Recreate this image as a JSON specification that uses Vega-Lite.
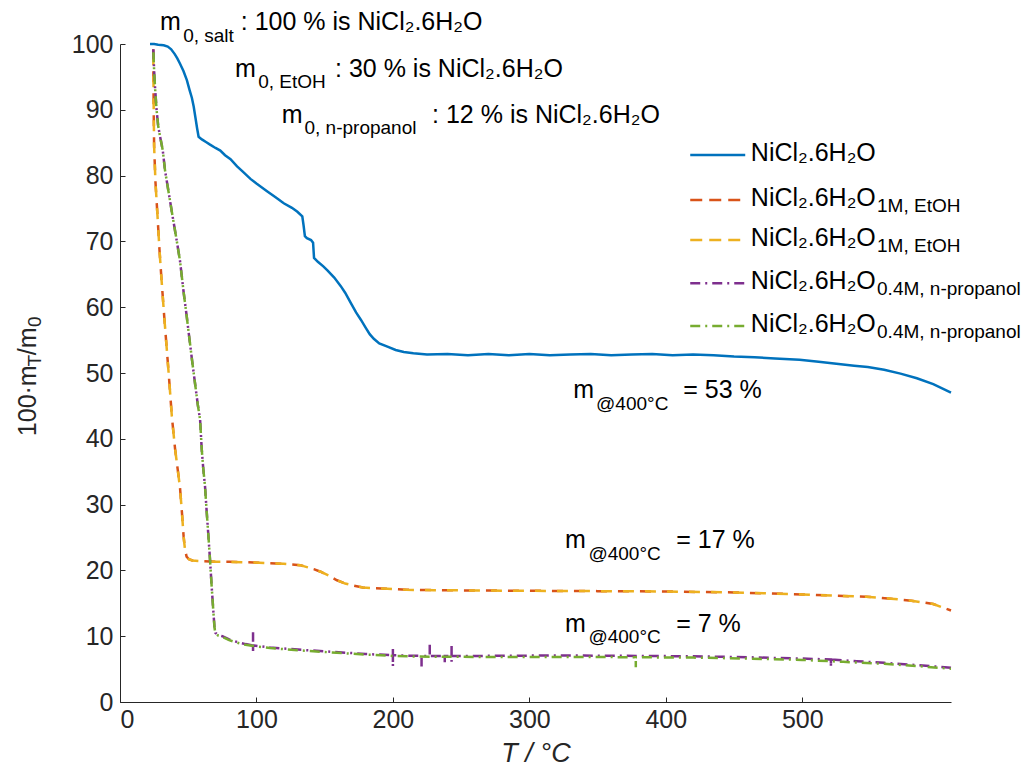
{
  "$schema": "https://vega.github.io/schema/vega-lite/v6.json",
  "width": 831,
  "height": 658,
  "autosize": "none",
  "padding": {"left": 120, "top": 44, "right": 75, "bottom": 74},
  "background": "white",
  "config": {"view": {"stroke": null}, "font": "Liberation Sans"},
  "datasets": {
    "curves": [
      {"s":"salt","T":22,"m":100},{"s":"salt","T":25,"m":100},{"s":"salt","T":28,"m":99.9},{"s":"salt","T":32,"m":99.8},{"s":"salt","T":35,"m":99.6},{"s":"salt","T":37.5,"m":99.2},{"s":"salt","T":40,"m":98.5},{"s":"salt","T":42,"m":97.8},{"s":"salt","T":44,"m":97.0},{"s":"salt","T":46.5,"m":95.9},{"s":"salt","T":49,"m":94.5},{"s":"salt","T":51,"m":93.0},{"s":"salt","T":52.7,"m":91.8},{"s":"salt","T":54,"m":90.5},{"s":"salt","T":55.3,"m":88.8},{"s":"salt","T":56.5,"m":87.2},{"s":"salt","T":57.6,"m":85.9},{"s":"salt","T":60,"m":85.5},{"s":"salt","T":63,"m":85.1},{"s":"salt","T":66,"m":84.7},{"s":"salt","T":70,"m":84.2},{"s":"salt","T":73.5,"m":83.8},{"s":"salt","T":77,"m":83.1},{"s":"salt","T":81,"m":82.5},{"s":"salt","T":85.8,"m":81.4},{"s":"salt","T":90,"m":80.6},{"s":"salt","T":95.6,"m":79.5},{"s":"salt","T":100,"m":78.8},{"s":"salt","T":108,"m":77.6},{"s":"salt","T":114,"m":76.7},{"s":"salt","T":120,"m":75.8},{"s":"salt","T":126,"m":75.1},{"s":"salt","T":130,"m":74.5},{"s":"salt","T":133.6,"m":73.8},{"s":"salt","T":134.5,"m":72.5},{"s":"salt","T":135.5,"m":70.8},{"s":"salt","T":137,"m":70.5},{"s":"salt","T":140,"m":70.2},{"s":"salt","T":141.5,"m":69.8},{"s":"salt","T":142.2,"m":67.5},{"s":"salt","T":145,"m":66.9},{"s":"salt","T":149,"m":66.2},{"s":"salt","T":152,"m":65.6},{"s":"salt","T":157,"m":64.5},{"s":"salt","T":161.8,"m":63.2},{"s":"salt","T":165,"m":62.2},{"s":"salt","T":169,"m":60.7},{"s":"salt","T":173,"m":59.2},{"s":"salt","T":176.5,"m":58.1},{"s":"salt","T":180,"m":56.9},{"s":"salt","T":183,"m":55.9},{"s":"salt","T":186,"m":55.2},{"s":"salt","T":190,"m":54.5},{"s":"salt","T":196,"m":54.0},{"s":"salt","T":202,"m":53.5},{"s":"salt","T":208,"m":53.2},{"s":"salt","T":215,"m":53.0},{"s":"salt","T":225,"m":52.8},{"s":"salt","T":240,"m":52.9},{"s":"salt","T":255,"m":52.7},{"s":"salt","T":270,"m":52.9},{"s":"salt","T":285,"m":52.7},{"s":"salt","T":300,"m":52.9},{"s":"salt","T":315,"m":52.7},{"s":"salt","T":330,"m":52.8},{"s":"salt","T":345,"m":52.9},{"s":"salt","T":360,"m":52.7},{"s":"salt","T":375,"m":52.8},{"s":"salt","T":390,"m":52.9},{"s":"salt","T":405,"m":52.7},{"s":"salt","T":420,"m":52.8},{"s":"salt","T":435,"m":52.7},{"s":"salt","T":450,"m":52.5},{"s":"salt","T":465,"m":52.4},{"s":"salt","T":480,"m":52.2},{"s":"salt","T":498,"m":52.0},{"s":"salt","T":512,"m":51.7},{"s":"salt","T":525,"m":51.4},{"s":"salt","T":538,"m":51.1},{"s":"salt","T":548,"m":50.9},{"s":"salt","T":560,"m":50.5},{"s":"salt","T":572,"m":49.9},{"s":"salt","T":584,"m":49.2},{"s":"salt","T":596,"m":48.3},{"s":"salt","T":609,"m":47.0},

      {"s":"e1","T":24.4,"m":99.2},{"s":"e1","T":24.5,"m":95},{"s":"e1","T":24.7,"m":90},{"s":"e1","T":25,"m":84.5},{"s":"e1","T":26,"m":79},{"s":"e1","T":27.5,"m":73.8},{"s":"e1","T":29,"m":68.5},{"s":"e1","T":30.6,"m":63.7},{"s":"e1","T":32.4,"m":58.6},{"s":"e1","T":34.3,"m":53.6},{"s":"e1","T":36.2,"m":48.5},{"s":"e1","T":38,"m":43.4},{"s":"e1","T":40.4,"m":38.4},{"s":"e1","T":42.5,"m":35},{"s":"e1","T":44,"m":32.5},{"s":"e1","T":45.5,"m":28.5},{"s":"e1","T":46.6,"m":25.2},{"s":"e1","T":47.6,"m":23.2},{"s":"e1","T":48.8,"m":22.1},{"s":"e1","T":50.5,"m":21.7},{"s":"e1","T":53,"m":21.5},{"s":"e1","T":60,"m":21.4},{"s":"e1","T":70,"m":21.3},{"s":"e1","T":80,"m":21.3},{"s":"e1","T":98,"m":21.2},{"s":"e1","T":110,"m":21.1},{"s":"e1","T":120,"m":21.0},{"s":"e1","T":132,"m":20.8},{"s":"e1","T":137,"m":20.5},{"s":"e1","T":142,"m":20.2},{"s":"e1","T":147,"m":19.8},{"s":"e1","T":153,"m":19.2},{"s":"e1","T":159,"m":18.5},{"s":"e1","T":165,"m":18.0},{"s":"e1","T":171,"m":17.7},{"s":"e1","T":178,"m":17.4},{"s":"e1","T":185,"m":17.3},{"s":"e1","T":196,"m":17.2},{"s":"e1","T":210,"m":17.05},{"s":"e1","T":230,"m":17.0},{"s":"e1","T":260,"m":16.95},{"s":"e1","T":300,"m":16.9},{"s":"e1","T":350,"m":16.85},{"s":"e1","T":400,"m":16.8},{"s":"e1","T":450,"m":16.65},{"s":"e1","T":475,"m":16.5},{"s":"e1","T":500,"m":16.35},{"s":"e1","T":525,"m":16.15},{"s":"e1","T":547,"m":16.0},{"s":"e1","T":565,"m":15.7},{"s":"e1","T":580,"m":15.4},{"s":"e1","T":596,"m":14.9},{"s":"e1","T":609,"m":13.9},

      {"s":"e2","T":24.4,"m":99.2},{"s":"e2","T":24.5,"m":95},{"s":"e2","T":24.7,"m":90},{"s":"e2","T":25,"m":84.5},{"s":"e2","T":26,"m":79},{"s":"e2","T":27.5,"m":73.8},{"s":"e2","T":29,"m":68.5},{"s":"e2","T":30.6,"m":63.7},{"s":"e2","T":32.4,"m":58.6},{"s":"e2","T":34.3,"m":53.6},{"s":"e2","T":36.2,"m":48.5},{"s":"e2","T":38,"m":43.4},{"s":"e2","T":40.4,"m":38.4},{"s":"e2","T":42.5,"m":35},{"s":"e2","T":44,"m":32.5},{"s":"e2","T":45.5,"m":28.5},{"s":"e2","T":46.6,"m":25.2},{"s":"e2","T":47.6,"m":23.2},{"s":"e2","T":48.8,"m":22.1},{"s":"e2","T":50.5,"m":21.7},{"s":"e2","T":53,"m":21.5},{"s":"e2","T":60,"m":21.4},{"s":"e2","T":70,"m":21.3},{"s":"e2","T":80,"m":21.3},{"s":"e2","T":98,"m":21.2},{"s":"e2","T":110,"m":21.1},{"s":"e2","T":120,"m":21.0},{"s":"e2","T":132,"m":20.8},{"s":"e2","T":137,"m":20.5},{"s":"e2","T":142,"m":20.2},{"s":"e2","T":147,"m":19.8},{"s":"e2","T":153,"m":19.2},{"s":"e2","T":159,"m":18.5},{"s":"e2","T":165,"m":18.0},{"s":"e2","T":171,"m":17.7},{"s":"e2","T":178,"m":17.4},{"s":"e2","T":185,"m":17.3},{"s":"e2","T":196,"m":17.2},{"s":"e2","T":210,"m":17.05},{"s":"e2","T":230,"m":17.0},{"s":"e2","T":260,"m":16.95},{"s":"e2","T":300,"m":16.9},{"s":"e2","T":350,"m":16.85},{"s":"e2","T":400,"m":16.8},{"s":"e2","T":450,"m":16.65},{"s":"e2","T":475,"m":16.5},{"s":"e2","T":500,"m":16.35},{"s":"e2","T":525,"m":16.15},{"s":"e2","T":547,"m":16.0},{"s":"e2","T":565,"m":15.7},{"s":"e2","T":580,"m":15.4},{"s":"e2","T":596,"m":14.9},{"s":"e2","T":609,"m":13.9},

      {"s":"p1","T":24.4,"m":99.2},{"s":"p1","T":25,"m":96},{"s":"p1","T":25.8,"m":93},{"s":"p1","T":26.8,"m":90},{"s":"p1","T":28,"m":87.5},{"s":"p1","T":29.5,"m":85.8},{"s":"p1","T":31.3,"m":83.9},{"s":"p1","T":33,"m":80.8},{"s":"p1","T":36,"m":77},{"s":"p1","T":38.8,"m":73.5},{"s":"p1","T":41.5,"m":70.2},{"s":"p1","T":44,"m":67},{"s":"p1","T":46.5,"m":62.5},{"s":"p1","T":48.9,"m":58.6},{"s":"p1","T":51,"m":55},{"s":"p1","T":53,"m":51.6},{"s":"p1","T":55,"m":48.4},{"s":"p1","T":57,"m":45.2},{"s":"p1","T":58.7,"m":42.9},{"s":"p1","T":59.9,"m":38.4},{"s":"p1","T":61,"m":35.5},{"s":"p1","T":62.3,"m":32.8},{"s":"p1","T":63.5,"m":29},{"s":"p1","T":64.8,"m":25.2},{"s":"p1","T":66,"m":21.5},{"s":"p1","T":67.2,"m":17.5},{"s":"p1","T":68.4,"m":13.8},{"s":"p1","T":69.3,"m":11.2},{"s":"p1","T":70,"m":10.5},{"s":"p1","T":72,"m":10.2},{"s":"p1","T":75,"m":10.0},{"s":"p1","T":80,"m":9.5},{"s":"p1","T":86,"m":9.1},{"s":"p1","T":92,"m":8.8},{"s":"p1","T":97.5,"m":8.6},{"s":"p1","T":97.5,"m":10.6},{"s":"p1","T":97.5,"m":7.7},{"s":"p1","T":97.5,"m":8.6},{"s":"p1","T":110,"m":8.3},{"s":"p1","T":122,"m":8.1},{"s":"p1","T":135,"m":7.9},{"s":"p1","T":150,"m":7.7},{"s":"p1","T":165,"m":7.5},{"s":"p1","T":180,"m":7.3},{"s":"p1","T":200,"m":7.1},{"s":"p1","T":200,"m":8.2},{"s":"p1","T":200,"m":5.4},{"s":"p1","T":200,"m":7.1},{"s":"p1","T":221,"m":7.0},{"s":"p1","T":221,"m":5.4},{"s":"p1","T":221,"m":7.0},{"s":"p1","T":227,"m":7.0},{"s":"p1","T":227,"m":8.7},{"s":"p1","T":227,"m":7.0},{"s":"p1","T":238,"m":7.0},{"s":"p1","T":238,"m":5.9},{"s":"p1","T":238,"m":7.0},{"s":"p1","T":243,"m":7.0},{"s":"p1","T":243,"m":8.5},{"s":"p1","T":243,"m":6.1},{"s":"p1","T":243,"m":7.0},{"s":"p1","T":260,"m":7.0},{"s":"p1","T":300,"m":7.05},{"s":"p1","T":340,"m":7.05},{"s":"p1","T":380,"m":7.0},{"s":"p1","T":420,"m":6.95},{"s":"p1","T":460,"m":6.8},{"s":"p1","T":500,"m":6.6},{"s":"p1","T":521,"m":6.45},{"s":"p1","T":521,"m":5.3},{"s":"p1","T":521,"m":6.45},{"s":"p1","T":540,"m":6.2},{"s":"p1","T":560,"m":5.95},{"s":"p1","T":585,"m":5.6},{"s":"p1","T":609,"m":5.2},

      {"s":"p2","T":24.4,"m":99.2},{"s":"p2","T":25,"m":96},{"s":"p2","T":25.8,"m":93},{"s":"p2","T":26.8,"m":90},{"s":"p2","T":28,"m":87.5},{"s":"p2","T":29.5,"m":85.8},{"s":"p2","T":31.3,"m":83.9},{"s":"p2","T":33,"m":80.8},{"s":"p2","T":36,"m":77},{"s":"p2","T":38.8,"m":73.5},{"s":"p2","T":41.5,"m":70.2},{"s":"p2","T":44,"m":67},{"s":"p2","T":46.5,"m":62.5},{"s":"p2","T":48.9,"m":58.6},{"s":"p2","T":51,"m":55},{"s":"p2","T":53,"m":51.6},{"s":"p2","T":55,"m":48.4},{"s":"p2","T":57,"m":45.2},{"s":"p2","T":58.7,"m":42.9},{"s":"p2","T":59.9,"m":38.4},{"s":"p2","T":61,"m":35.5},{"s":"p2","T":62.3,"m":32.8},{"s":"p2","T":63.5,"m":29},{"s":"p2","T":64.8,"m":25.2},{"s":"p2","T":66,"m":21.5},{"s":"p2","T":67.2,"m":17.5},{"s":"p2","T":68.4,"m":13.8},{"s":"p2","T":69.3,"m":11.2},{"s":"p2","T":70,"m":10.4},{"s":"p2","T":72,"m":10.1},{"s":"p2","T":75,"m":9.9},{"s":"p2","T":80,"m":9.4},{"s":"p2","T":86,"m":9.0},{"s":"p2","T":92,"m":8.7},{"s":"p2","T":98,"m":8.5},{"s":"p2","T":110,"m":8.2},{"s":"p2","T":122,"m":8.0},{"s":"p2","T":135,"m":7.8},{"s":"p2","T":150,"m":7.6},{"s":"p2","T":165,"m":7.4},{"s":"p2","T":180,"m":7.2},{"s":"p2","T":200,"m":7.0},{"s":"p2","T":220,"m":6.9},{"s":"p2","T":260,"m":6.85},{"s":"p2","T":300,"m":6.85},{"s":"p2","T":340,"m":6.85},{"s":"p2","T":378,"m":6.8},{"s":"p2","T":378,"m":5.3},{"s":"p2","T":378,"m":6.8},{"s":"p2","T":420,"m":6.75},{"s":"p2","T":460,"m":6.6},{"s":"p2","T":500,"m":6.4},{"s":"p2","T":530,"m":6.1},{"s":"p2","T":560,"m":5.8},{"s":"p2","T":585,"m":5.45},{"s":"p2","T":609,"m":5.05}
    ],
    "legend": [
      {"s":"salt","T":417.9,"T2":458.2,"m":83.13},
      {"s":"e1","T":417.9,"T2":458.2,"m":76.29},
      {"s":"e2","T":417.9,"T2":458.2,"m":70.21},
      {"s":"p1","T":417.9,"T2":458.2,"m":63.63},
      {"s":"p2","T":417.9,"T2":458.2,"m":57.14}
    ],
    "texts": [
      {"r":"main","T":29.3,"m":102.1,"t":"m"},
      {"r":"sub","T":46.3,"m":100.35,"t":"0, salt"},
      {"r":"main","T":88.5,"m":102.1,"t":": 100 % is NiCl₂.6H₂O"},
      {"r":"main","T":84.3,"m":95.0,"t":"m"},
      {"r":"sub","T":101.3,"m":93.3,"t":"0, EtOH"},
      {"r":"main","T":157.6,"m":95.0,"t":": 30 % is NiCl₂.6H₂O"},
      {"r":"main","T":118.5,"m":88.0,"t":"m"},
      {"r":"sub","T":135.2,"m":86.3,"t":"0, n-propanol"},
      {"r":"main","T":228.7,"m":88.0,"t":": 12 % is NiCl₂.6H₂O"},
      {"r":"main","T":332.1,"m":46.15,"t":"m"},
      {"r":"sub","T":348.9,"m":44.4,"t":"@400°C"},
      {"r":"main","T":412.8,"m":46.15,"t":"= 53 %"},
      {"r":"main","T":326.2,"m":23.35,"t":"m"},
      {"r":"sub","T":343.3,"m":21.6,"t":"@400°C"},
      {"r":"main","T":407.6,"m":23.35,"t":"= 17 %"},
      {"r":"main","T":326.2,"m":10.7,"t":"m"},
      {"r":"sub","T":343.3,"m":8.9,"t":"@400°C"},
      {"r":"main","T":407.6,"m":10.7,"t":"= 7 %"},
      {"r":"main","T":462.3,"m":82.2,"t":"NiCl₂.6H₂O"},
      {"r":"main","T":462.3,"m":75.4,"t":"NiCl₂.6H₂O"},
      {"r":"sub","T":554.8,"m":74.5,"t":"1M, EtOH"},
      {"r":"main","T":462.3,"m":69.3,"t":"NiCl₂.6H₂O"},
      {"r":"sub","T":554.8,"m":68.4,"t":"1M, EtOH"},
      {"r":"main","T":462.3,"m":62.7,"t":"NiCl₂.6H₂O"},
      {"r":"sub","T":554.8,"m":61.8,"t":"0.4M, n-propanol"},
      {"r":"main","T":462.3,"m":56.2,"t":"NiCl₂.6H₂O"},
      {"r":"sub","T":554.8,"m":55.3,"t":"0.4M, n-propanol"},
      {"r":"ymain","T":-61.5,"m":40.4,"t":"100·m"},
      {"r":"ysub","T":-57.8,"m":51.0,"t":"T"},
      {"r":"ymain","T":-61.5,"m":52.7,"t":"/m"},
      {"r":"ysub","T":-57.8,"m":57.0,"t":"0"}
    ]
  },
  "encoding": {
    "x": {"field": "T", "type": "quantitative", "scale": {"domain": [0, 609], "nice": false, "zero": false},
      "axis": {"values": [0,100,200,300,400,500], "title": "T / °C", "titleFontSize": 27, "titleFontStyle": "italic", "titleFontWeight": "normal", "titleColor": "#262626", "titlePadding": 8,
        "labelFontSize": 25, "labelColor": "#262626", "domainColor": "#262626", "tickColor": "#262626", "tickSize": -5, "labelPadding": 10, "grid": false, "labelFont": "Liberation Sans", "titleFont": "Liberation Sans"}},
    "y": {"field": "m", "type": "quantitative", "scale": {"domain": [0, 100], "nice": false, "zero": false},
      "axis": {"values": [0,10,20,30,40,50,60,70,80,90,100], "title": null,
        "labelFontSize": 25, "labelColor": "#262626", "domainColor": "#262626", "tickColor": "#262626", "tickSize": -5, "labelPadding": 12, "grid": false, "labelFont": "Liberation Sans"}}
  },
  "layer": [
    {"data": {"name": "curves"}, "transform": [{"filter": "datum.s === 'salt'"}], "mark": {"type": "line", "strokeWidth": 2.5, "color": "#0072BD"}, "encoding": {"order": {"value": null}}},
    {"data": {"name": "curves"}, "transform": [{"filter": "datum.s === 'e1'"}], "mark": {"type": "line", "strokeWidth": 2.5, "color": "#D95319", "strokeDash": [11, 11]}, "encoding": {"order": {"value": null}}},
    {"data": {"name": "curves"}, "transform": [{"filter": "datum.s === 'e2'"}], "mark": {"type": "line", "strokeWidth": 2.5, "color": "#EDB120", "strokeDash": [11, 11], "strokeDashOffset": -5}, "encoding": {"order": {"value": null}}},
    {"data": {"name": "curves"}, "transform": [{"filter": "datum.s === 'p1'"}], "mark": {"type": "line", "strokeWidth": 2.5, "color": "#7E2F8E", "strokeDash": [10, 5, 2, 5]}, "encoding": {"order": {"value": null}}},
    {"data": {"name": "curves"}, "transform": [{"filter": "datum.s === 'p2'"}], "mark": {"type": "line", "strokeWidth": 2.5, "color": "#77AC30", "strokeDash": [10, 5, 2, 5], "strokeDashOffset": -3}, "encoding": {"order": {"value": null}}},
    {"data": {"name": "legend"}, "mark": {"type": "rule", "strokeWidth": 2.5},
      "encoding": {"x2": {"field": "T2"},
        "color": {"field": "s", "type": "nominal", "scale": {"domain": ["salt","e1","e2","p1","p2"], "range": ["#0072BD","#D95319","#EDB120","#7E2F8E","#77AC30"]}, "legend": null},
        "strokeDash": {"field": "s", "type": "nominal", "scale": {"domain": ["salt","e1","e2","p1","p2"], "range": [[1,0],[12,7],[12,7],[10,5,2,5],[10,5,2,5]]}, "legend": null}}},
    {"data": {"name": "texts"}, "transform": [{"filter": "datum.r === 'main'"}], "mark": {"type": "text", "align": "left", "baseline": "alphabetic", "fontSize": 25, "color": "#000000", "font": "Liberation Sans"}, "encoding": {"text": {"field": "t"}}},
    {"data": {"name": "texts"}, "transform": [{"filter": "datum.r === 'sub'"}], "mark": {"type": "text", "align": "left", "baseline": "alphabetic", "fontSize": 19, "color": "#000000", "font": "Liberation Sans"}, "encoding": {"text": {"field": "t"}}},
    {"data": {"name": "texts"}, "transform": [{"filter": "datum.r === 'ymain'"}], "mark": {"type": "text", "align": "left", "baseline": "alphabetic", "angle": 270, "fontSize": 25, "color": "#262626", "font": "Liberation Sans"}, "encoding": {"text": {"field": "t"}}},
    {"data": {"name": "texts"}, "transform": [{"filter": "datum.r === 'ysub'"}], "mark": {"type": "text", "align": "left", "baseline": "alphabetic", "angle": 270, "fontSize": 19, "color": "#262626", "font": "Liberation Sans"}, "encoding": {"text": {"field": "t"}}}
  ]
}
